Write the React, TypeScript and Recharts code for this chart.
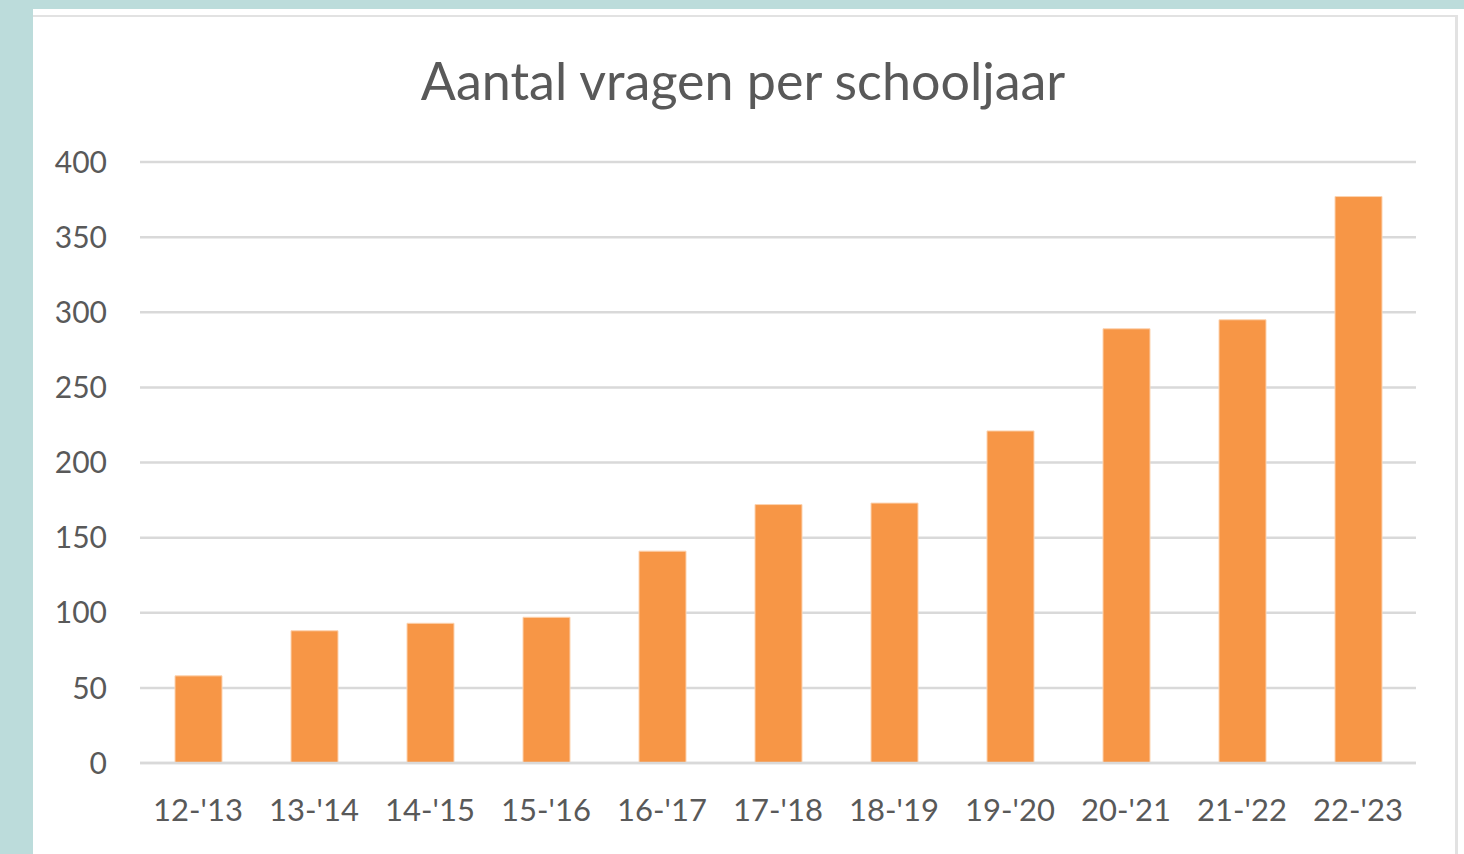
import React from "react";
import { BarChart, Bar, XAxis, YAxis, CartesianGrid } from "recharts";

const categories = ["12-'13", "13-'14", "14-'15", "15-'16", "16-'17", "17-'18", "18-'19", "19-'20", "20-'21", "21-'22", "22-'23"];
const vragen = [58, 88, 93, 97, 141, 172, 173, 221, 289, 295, 377];
const yTicks = [0, 50, 100, 150, 200, 250, 300, 350, 400];
const title = "Aantal vragen per schooljaar";

const data = categories.map((c, i) => ({ jaar: c, vragen: vragen[i] }));

const FONT = "Lato, 'Open Sans', sans-serif";
const TEXT = "#595959";

export default function App() {
  return (
    <div style={{ position: "fixed", left: 0, top: 0, width: 1464, height: 854, background: "#bcdcdb", overflow: "hidden" }}>
      <div style={{ position: "absolute", left: 33, top: 9, width: 1431, height: 845, background: "#ffffff" }} />
      <div
        style={{
          position: "absolute",
          left: 33,
          top: 15,
          width: 1425,
          height: 845,
          borderTop: "2px solid #e2e2e2",
          borderRight: "3px solid #e2e2e2",
          boxSizing: "border-box",
        }}
      />
      <div
        style={{
          position: "absolute",
          left: 0,
          top: 50,
          width: 1486,
          textAlign: "center",
          fontFamily: FONT,
          fontSize: 52,
          color: TEXT,
          lineHeight: "60px",
        }}
      >
        {title}
      </div>
      <div style={{ position: "absolute", left: 0, top: 0 }}>
        <BarChart
          width={1464}
          height={854}
          data={data}
          margin={{ top: 162, right: 48, left: 40, bottom: 31 }}
        >
          <CartesianGrid vertical={false} stroke="#d9d9d9" strokeWidth={2.5} />
          <XAxis
            dataKey="jaar"
            height={60}
            axisLine={{ stroke: "#d9d9d9", strokeWidth: 2.5 }}
            tickLine={false}
            tickMargin={30}
            interval={0}
            tick={{ fill: TEXT, fontSize: 31, fontFamily: FONT }}
          />
          <YAxis
            width={100}
            domain={[0, 400]}
            ticks={yTicks}
            axisLine={false}
            tickLine={false}
            tickMargin={27}
            tick={{ fill: TEXT, fontSize: 30, fontFamily: FONT }}
          />
          <Bar dataKey="vragen" fill="#f79646" stroke="#fcd3b0" strokeWidth={1} barSize={47} isAnimationActive={false} />
        </BarChart>
      </div>
    </div>
  );
}
